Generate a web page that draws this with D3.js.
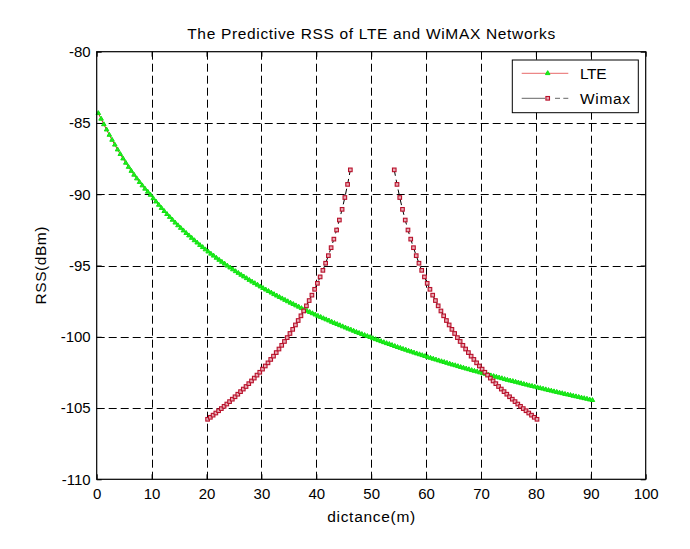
<!DOCTYPE html>
<html><head><meta charset="utf-8">
<script src="https://cdn.jsdelivr.net/npm/d3@7"></script>
<style>body{margin:0;background:#fff}svg{display:block}text{font-family:"Liberation Sans",Arial,Helvetica,sans-serif}</style>
</head><body>
<script>
const title = "The Predictive RSS of LTE and WiMAX Networks";
const xLabel = "dictance(m)";
const yLabel = "RSS(dBm)";
const xTicks = [0,10,20,30,40,50,60,70,80,90,100];
const yTicks = [-110,-105,-100,-95,-90,-85,-80];
const seriesNames = ["LTE","Wimax"];

const lteX = [0.3,0.8,1.3,1.8,2.3,2.8,3.3,3.8,4.3,4.8,5.3,5.8,6.3,6.8,7.3,7.8,8.3,8.8,9.3,9.8,
10.3,10.8,11.3,11.8,12.3,12.8,13.3,13.8,14.3,14.8,15.3,15.8,16.3,16.8,17.3,17.8,18.3,18.8,19.3,19.8,
20.3,20.8,21.3,21.8,22.3,22.8,23.3,23.8,24.3,24.8,25.3,25.8,26.3,26.8,27.3,27.8,28.3,28.8,29.3,29.8,
30.3,30.8,31.3,31.8,32.3,32.8,33.3,33.8,34.3,34.8,35.3,35.8,36.3,36.8,37.3,37.8,38.3,38.8,39.3,39.8,
40.3,40.8,41.3,41.8,42.3,42.8,43.3,43.8,44.3,44.8,45.3,45.8,46.3,46.8,47.3,47.8,48.3,48.8,49.3,49.8,
50.3,50.8,51.3,51.8,52.3,52.8,53.3,53.8,54.3,54.8,55.3,55.8,56.3,56.8,57.3,57.8,58.3,58.8,59.3,59.8,
60.3,60.8,61.3,61.8,62.3,62.8,63.3,63.8,64.3,64.8,65.3,65.8,66.3,66.8,67.3,67.8,68.3,68.8,69.3,69.8,
70.3,70.8,71.3,71.8,72.3,72.8,73.3,73.8,74.3,74.8,75.3,75.8,76.3,76.8,77.3,77.8,78.3,78.8,79.3,79.8,
80.3,80.8,81.3,81.8,82.3,82.8,83.3,83.8,84.3,84.8,85.3,85.8,86.3,86.8,87.3,87.8,88.3,88.8,89.3,89.8,
90.3];
const lteY = [-84.32,-84.71,-85.10,-85.47,-85.84,-86.19,-86.53,-86.87,-87.19,-87.50,-87.80,-88.09,-88.37,-88.64,-88.90,-89.15,-89.39,-89.62,-89.83,-90.05,
-90.29,-90.52,-90.75,-90.97,-91.19,-91.40,-91.60,-91.80,-92.00,-92.19,
-92.37,-92.55,-92.73,-92.90,-93.07,-93.24,-93.40,-93.57,-93.72,-93.88,
-94.03,-94.18,-94.32,-94.47,-94.61,-94.75,-94.88,-95.02,-95.15,-95.28,
-95.41,-95.53,-95.66,-95.78,-95.90,-96.02,-96.14,-96.25,-96.36,-96.48,
-96.59,-96.70,-96.80,-96.91,-97.02,-97.12,-97.22,-97.32,-97.42,-97.52,
-97.62,-97.71,-97.81,-97.90,-98.00,-98.09,-98.18,-98.27,-98.36,-98.45,
-98.54,-98.62,-98.71,-98.79,-98.87,-98.96,-99.04,-99.12,-99.20,-99.28,
-99.36,-99.44,-99.51,-99.59,-99.67,-99.74,-99.82,-99.89,-99.96,-100.03,
-100.11,-100.18,-100.25,-100.32,-100.39,-100.46,-100.52,-100.59,-100.66,-100.73,
-100.79,-100.86,-100.92,-100.99,-101.05,-101.12,-101.18,-101.24,-101.30,-101.36,
-101.43,-101.49,-101.55,-101.61,-101.67,-101.73,-101.78,-101.84,-101.90,-101.96,
-102.01,-102.07,-102.13,-102.18,-102.24,-102.29,-102.35,-102.40,-102.45,-102.51,
-102.56,-102.61,-102.67,-102.72,-102.77,-102.82,-102.87,-102.92,-102.98,-103.03,
-103.08,-103.12,-103.17,-103.22,-103.27,-103.32,-103.37,-103.42,-103.46,-103.51,
-103.56,-103.61,-103.65,-103.70,-103.75,-103.79,-103.84,-103.88,-103.93,-103.97,
-104.02,-104.06,-104.10,-104.15,-104.19,-104.23,-104.28,-104.32,-104.36,-104.41,
-104.45];

const wimaxLeftX = [20.2,20.7,21.2,21.7,22.2,22.7,23.2,23.7,24.2,24.7,25.2,25.7,26.2,26.7,27.2,27.7,28.2,28.7,29.2,29.7,
30.2,30.7,31.2,31.7,32.2,32.7,33.2,33.7,34.2,34.7,35.2,35.7,36.2,36.7,37.2,37.7,38.2,38.7,39.2,39.7,
40.2,40.7,41.2,41.7,42.2,42.7,43.2,43.7,44.2,44.7,45.2,45.7,46.2];
const wimaxLeftY = [-105.79,-105.65,-105.50,-105.35,-105.19,-105.04,-104.88,-104.72,-104.55,-104.38,-104.21,-104.03,-103.85,-103.67,-103.49,-103.29,-103.10,-102.90,-102.69,-102.49,
-102.27,-102.05,-101.83,-101.59,-101.36,-101.11,-100.86,-100.60,-100.33,-100.06,-99.77,-99.48,-99.17,-98.86,-98.53,-98.19,-97.83,-97.46,-97.08,-96.67,
-96.25,-95.80,-95.34,-94.84,-94.31,-93.75,-93.15,-92.51,-91.81,-91.06,-90.23,-89.31,-88.29];
const wimaxRightX = [54.2,54.7,55.2,55.7,56.2,56.7,57.2,57.7,58.2,58.7,59.2,59.7,
60.2,60.7,61.2,61.7,62.2,62.7,63.2,63.7,64.2,64.7,65.2,65.7,66.2,66.7,67.2,67.7,68.2,68.7,69.2,69.7,
70.2,70.7,71.2,71.7,72.2,72.7,73.2,73.7,74.2,74.7,75.2,75.7,76.2,76.7,77.2,77.7,78.2,78.7,79.2,79.7,80.2];
const wimaxRightY = [-88.29,-89.31,-90.23,-91.06,-91.81,-92.51,-93.15,-93.75,-94.31,-94.84,-95.34,-95.80,
-96.25,-96.67,-97.08,-97.46,-97.83,-98.19,-98.53,-98.86,-99.17,-99.48,-99.77,-100.06,-100.33,-100.60,-100.86,-101.11,-101.36,-101.59,-101.83,-102.05,
-102.27,-102.49,-102.69,-102.90,-103.10,-103.29,-103.49,-103.67,-103.85,-104.03,-104.21,-104.38,-104.55,-104.72,-104.88,-105.04,-105.19,-105.35,-105.50,-105.65,-105.79];

const W = 690, H = 549;
const L = 96.7, R = 645.7, T = 51.7, B = 479.3;
const svg = d3.select("body").append("svg").attr("width", W).attr("height", H);
svg.append("rect").attr("width", W).attr("height", H).attr("fill", "#fff");

const x = d3.scaleLinear().domain([0,100]).range([L,R]);
const y = d3.scaleLinear().domain([-110,-80]).range([B,T]);
const fmt = d => String(d);

// grid
const grid = svg.append("g").attr("stroke", "#000").attr("stroke-width", 1).attr("stroke-dasharray", "8,4").attr("fill","none");
xTicks.slice(1,-1).forEach(v => grid.append("line").attr("x1", Math.round(x(v))+0.5).attr("x2", Math.round(x(v))+0.5).attr("y1", T).attr("y2", B));
yTicks.slice(1,-1).forEach(v => grid.append("line").attr("y1", Math.round(y(v))+0.5).attr("y2", Math.round(y(v))+0.5).attr("x1", L).attr("x2", R));

// LTE
const lteData = lteX.map((d,i)=>[d, lteY[i]]);
const line = d3.line().x(d=>x(d[0])).y(d=>y(d[1]));
svg.append("path").datum(lteData).attr("d", line).attr("fill","none").attr("stroke","#d42020").attr("stroke-width",1);
const tri = d3.symbol().type(d3.symbolTriangle).size(9);
svg.append("g").selectAll("path").data(lteData).join("path")
  .attr("d", tri).attr("transform", d=>`translate(${x(d[0])},${y(d[1])})`)
  .attr("fill","#1cf01c").attr("stroke","#10e010").attr("stroke-width",1);

// Wimax
const segs = [wimaxLeftX.map((d,i)=>[d, wimaxLeftY[i]]), wimaxRightX.map((d,i)=>[d, wimaxRightY[i]])];
segs.forEach(seg => {
  svg.append("path").datum(seg).attr("d", line).attr("fill","none").attr("stroke","#000").attr("stroke-width",1).attr("stroke-dasharray","6,4");
  svg.append("g").selectAll("rect").data(seg).join("rect")
    .attr("x", d=>x(d[0])-1.8).attr("y", d=>y(d[1])-1.8).attr("width",3.6).attr("height",3.6)
    .attr("fill","#e8aab4").attr("stroke","#b8102a").attr("stroke-width",1.1);
});

// axes
const fs = 15;
svg.append("g").attr("transform",`translate(0,${B})`)
  .call(d3.axisBottom(x).tickValues(xTicks).tickSize(-5).tickSizeOuter(0).tickPadding(9).tickFormat(fmt));
svg.append("g").attr("transform",`translate(${L},0)`)
  .call(d3.axisLeft(y).tickValues(yTicks).tickSize(-5).tickSizeOuter(0).tickPadding(6).tickFormat(fmt));
svg.append("g").attr("transform",`translate(0,${T})`)
  .call(d3.axisTop(x).tickValues(xTicks).tickSize(-5).tickSizeOuter(0).tickFormat(""));
svg.append("g").attr("transform",`translate(${R},0)`)
  .call(d3.axisRight(y).tickValues(yTicks).tickSize(-5).tickSizeOuter(0).tickFormat(""));
svg.selectAll(".domain").remove();
svg.selectAll(".tick text").attr("font-size", fs).attr("fill","#000").attr("font-family",'"Liberation Sans",Arial,sans-serif');
svg.selectAll(".tick line").attr("stroke","#000");
svg.append("rect").attr("x",L).attr("y",T).attr("width",R-L).attr("height",B-T).attr("fill","none").attr("stroke","#000").attr("stroke-width",1.2);

// labels
svg.append("text").attr("x",(L+R)/2).attr("y",39).attr("text-anchor","middle").attr("font-size",15.5)
  .attr("textLength",368).attr("lengthAdjust","spacing").text(title);
svg.append("text").attr("x",(L+R)/2).attr("y",522).attr("text-anchor","middle").attr("font-size",15.5)
  .attr("textLength",88).attr("lengthAdjust","spacing").text(xLabel);
svg.append("text").attr("transform",`translate(46,${(T+B)/2}) rotate(-90)`).attr("text-anchor","middle").attr("font-size",15.5)
  .attr("textLength",78).attr("lengthAdjust","spacing").text(yLabel);

// legend
const lg = svg.append("g");
lg.append("rect").attr("x",512.3).attr("y",60).attr("width",126).attr("height",52.7).attr("fill","#fff").attr("stroke","#000").attr("stroke-width",1);
lg.append("line").attr("x1",521.7).attr("x2",568.3).attr("y1",73.3).attr("y2",73.3).attr("stroke","#e86a6a").attr("stroke-width",1);
lg.append("path").attr("d",tri).attr("transform","translate(547.7,73.3)").attr("fill","#1cf01c").attr("stroke","#10e010").attr("stroke-width",1);
lg.append("text").attr("x",580).attr("y",79).attr("font-size",15.5).attr("textLength",26.5).attr("lengthAdjust","spacing").text(seriesNames[0]);
lg.append("line").attr("x1",521.7).attr("x2",568.3).attr("y1",98.3).attr("y2",98.3).attr("stroke","#666").attr("stroke-width",1).attr("stroke-dasharray","23.3,10,5,3.3,5");
lg.append("rect").attr("x",547.7-1.8).attr("y",98.3-1.8).attr("width",3.6).attr("height",3.6).attr("fill","#e8aab4").attr("stroke","#b8102a").attr("stroke-width",1.1);
lg.append("text").attr("x",580).attr("y",104).attr("font-size",15.5).attr("textLength",50).attr("lengthAdjust","spacing").text(seriesNames[1]);
</script>
</body></html>
